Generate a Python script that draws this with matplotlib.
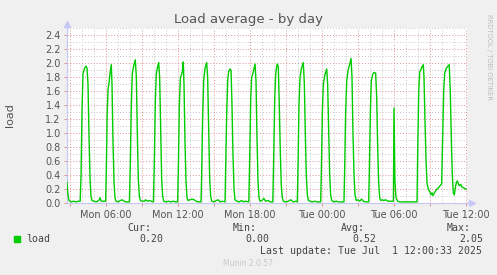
import matplotlib
matplotlib.use("Agg")
import matplotlib.pyplot as plt
import numpy as np

# -------------------------------------------------
# Data (hours since Mon 00:00, load average)
# -------------------------------------------------
hours = [
    2.75, 2.83, 2.92, 3.1, 3.3, 3.5, 3.7, 3.85,
    3.92, 4.0, 4.08, 4.22, 4.33, 4.42, 4.5, 4.58, 4.67, 4.75, 4.83,
    5.0, 5.2, 5.4, 5.5, 5.6, 5.8, 5.97,
    6.03, 6.1, 6.17, 6.25, 6.33, 6.44, 6.5, 6.58, 6.67, 6.75, 6.83,
    7.0, 7.2, 7.35, 7.5, 7.7, 7.95,
    8.03, 8.11, 8.19, 8.3, 8.44, 8.53, 8.61, 8.69, 8.78, 8.86,
    9.0, 9.2, 9.3, 9.45, 9.6, 9.75, 9.95,
    10.03, 10.11, 10.19, 10.3, 10.39, 10.47, 10.56, 10.64, 10.72, 10.81,
    11.0, 11.2, 11.4, 11.6, 11.8, 11.97,
    12.03, 12.11, 12.2, 12.3, 12.36, 12.44, 12.5, 12.58, 12.67, 12.75, 12.83,
    13.0, 13.2, 13.35, 13.5, 13.7, 13.92,
    13.97, 14.05, 14.14, 14.25, 14.39, 14.47, 14.56, 14.64, 14.72, 14.81,
    15.0, 15.2, 15.35, 15.5, 15.7, 15.92,
    15.97, 16.06, 16.14, 16.22, 16.33, 16.42, 16.5, 16.58, 16.67, 16.75,
    16.9, 17.1, 17.3, 17.45, 17.6, 17.9,
    17.97, 18.06, 18.14, 18.22, 18.3, 18.42, 18.5, 18.58, 18.67, 18.75, 18.83,
    19.0, 19.15, 19.3, 19.5, 19.7, 19.9,
    19.97, 20.06, 20.14, 20.22, 20.28, 20.36, 20.44, 20.53, 20.61, 20.69, 20.78,
    21.0, 21.2, 21.4, 21.6, 21.8, 21.94,
    22.0, 22.08, 22.17, 22.28, 22.44, 22.53, 22.61, 22.69, 22.78, 22.86,
    23.0, 23.2, 23.4, 23.6, 23.89,
    23.95, 24.03, 24.11, 24.22, 24.39, 24.47, 24.56, 24.64, 24.72, 24.81,
    25.0, 25.2, 25.4, 25.6, 25.83,
    25.89, 25.97, 26.06, 26.17, 26.3, 26.42, 26.5, 26.58, 26.67, 26.75, 26.86,
    27.0, 27.15, 27.3, 27.45, 27.6, 27.89,
    27.95, 28.03, 28.11, 28.22, 28.33, 28.47, 28.56, 28.64, 28.72, 28.81, 28.89,
    29.0, 29.15, 29.3, 29.5, 29.7, 29.95,
    30.0, 30.08, 30.17, 30.3,
    30.5, 30.8, 31.1, 31.4, 31.7, 31.92,
    31.97, 32.06, 32.14, 32.22, 32.33, 32.44, 32.5, 32.58, 32.67, 32.75, 32.83,
    32.92, 33.0, 33.08, 33.17, 33.25, 33.4, 33.55, 33.7, 33.83, 33.97,
    34.06, 34.14, 34.22, 34.33, 34.44, 34.6, 34.69, 34.78, 34.86, 34.94, 35.03,
    35.11, 35.2, 35.28, 35.36, 35.44, 35.56, 35.67, 35.8, 36.0,
]
load = [
    0.30, 0.12, 0.04, 0.02, 0.03, 0.02, 0.03, 0.03,
    0.40, 1.30, 1.85, 1.93, 1.96, 1.93, 1.70, 1.00, 0.35, 0.10, 0.04,
    0.03, 0.02, 0.04, 0.08, 0.03, 0.03, 0.03,
    0.50, 1.30, 1.62, 1.72, 1.85, 1.98, 1.70, 0.90, 0.30, 0.08, 0.03,
    0.02, 0.04, 0.05, 0.03, 0.02, 0.02,
    0.60, 1.40, 1.85, 1.96, 2.05, 1.80, 1.00, 0.35, 0.10, 0.04,
    0.03, 0.03, 0.05, 0.03, 0.04, 0.03, 0.02,
    0.60, 1.45, 1.85, 1.95, 2.01, 1.80, 1.00, 0.35, 0.10, 0.03,
    0.02, 0.03, 0.02, 0.03, 0.02, 0.02,
    0.50, 1.40, 1.80, 1.84, 1.88, 2.02, 1.70, 0.90, 0.30, 0.08, 0.04,
    0.05, 0.06, 0.05, 0.03, 0.02, 0.02,
    0.40, 1.20, 1.75, 1.93, 2.01, 1.80, 1.00, 0.35, 0.10, 0.03,
    0.02, 0.04, 0.05, 0.02, 0.03, 0.02,
    0.50, 1.30, 1.75, 1.88, 1.92, 1.90, 1.40, 0.70, 0.20, 0.05,
    0.03, 0.02, 0.04, 0.02, 0.03, 0.02,
    0.60, 1.50, 1.80, 1.84, 1.90, 1.99, 1.75, 0.95, 0.30, 0.08, 0.03,
    0.04, 0.07, 0.03, 0.04, 0.02, 0.02,
    0.60, 1.50, 1.85, 1.95, 1.99, 1.95, 1.40, 0.70, 0.25, 0.08, 0.03,
    0.02, 0.03, 0.05, 0.02, 0.03, 0.02,
    0.50, 1.40, 1.80, 1.92, 2.01, 1.70, 1.00, 0.40, 0.12, 0.04,
    0.03, 0.02, 0.03, 0.02, 0.02,
    0.50, 1.30, 1.70, 1.82, 1.92, 1.70, 1.00, 0.40, 0.12, 0.04,
    0.02, 0.03, 0.02, 0.02, 0.02,
    0.50, 1.30, 1.75, 1.90, 1.98, 2.07, 1.80, 1.00, 0.40, 0.12, 0.04,
    0.05, 0.03, 0.06, 0.03, 0.02, 0.02,
    0.50, 1.30, 1.75, 1.84, 1.87, 1.86, 1.50, 0.80, 0.30, 0.08, 0.04,
    0.05, 0.04, 0.05, 0.03, 0.03, 0.03,
    1.36, 0.30, 0.08, 0.03,
    0.02, 0.02, 0.02, 0.02, 0.02, 0.02,
    0.70, 1.60, 1.88, 1.90, 1.95, 1.98, 1.80, 1.20, 0.60, 0.30, 0.22,
    0.18, 0.16, 0.12, 0.15, 0.11, 0.16, 0.20, 0.22, 0.25, 0.28,
    1.00, 1.60, 1.85, 1.92, 1.95, 1.98, 1.60, 0.90, 0.40, 0.15, 0.12,
    0.22, 0.30, 0.32, 0.28, 0.25, 0.27, 0.23, 0.22, 0.20,
]

tick_hours = [6, 12, 18, 24, 30, 36]
tick_labels = ["Mon 06:00", "Mon 12:00", "Mon 18:00",
               "Tue 00:00", "Tue 06:00", "Tue 12:00"]

stat_names = ["Cur:", "Min:", "Avg:", "Max:"]
stat_values = ["0.20", "0.00", "0.52", "2.05"]
last_update = "Last update: Tue Jul  1 12:00:33 2025"

# -------------------------------------------------
# Figure
# -------------------------------------------------
W, H = 497, 275
fig = plt.figure(figsize=(W / 100, H / 100), dpi=100, facecolor="#f0f0f0")
ax = fig.add_axes([67 / W, 1 - 203.3 / H, 400 / W, 175 / H])
ax.set_facecolor("white")

ax.plot(hours, load, color="#00cc00", linewidth=1.0, zorder=3)

ax.set_xlim(2.75, 36.083)
ax.set_ylim(0, 2.5)

# grid
major_x = np.arange(3, 37, 3)
ax.set_xticks(major_x)
ax.set_xticklabels([tick_labels[tick_hours.index(h)] if h in tick_hours else ""
                    for h in major_x])
ax.set_xticks(np.arange(3, 37, 1), minor=True)
ax.set_yticks(np.arange(0, 2.41, 0.2))
ax.set_yticklabels([f"{v:.1f}" for v in np.arange(0, 2.41, 0.2)])
ax.set_yticks(np.arange(0.1, 2.51, 0.1), minor=True)

dot = (0, (1, 2))
ax.grid(which="major", color="#e09090", linestyle=dot, linewidth=0.7, zorder=1)
ax.grid(which="minor", color="#c8c8c8", linestyle=dot, linewidth=0.7, zorder=1)

ax.tick_params(which="major", length=2.5, width=0.7, color="#e09090",
               labelsize=7, labelcolor="#555555", pad=2)
ax.tick_params(which="minor", length=0)

for s in ["top", "right"]:
    ax.spines[s].set_visible(False)
for s in ["left", "bottom"]:
    ax.spines[s].set_color("#c8c8f4")
    ax.spines[s].set_linewidth(0.9)

# axis arrows
ax.plot([0, 0], [1, 1.02], color="#c8c8f4", lw=0.9, transform=ax.transAxes, clip_on=False)
ax.plot([0], [1.025], marker="^", color="#c8c8f4", markersize=4.5,
        transform=ax.transAxes, clip_on=False)
ax.plot([1, 1.008], [0, 0], color="#c8c8f4", lw=0.9, transform=ax.transAxes, clip_on=False)
ax.plot([1.012], [0], marker=">", color="#c8c8f4", markersize=4.5,
        transform=ax.transAxes, clip_on=False)

# texts
fig.text(248 / W, 1 - 19 / H, "Load average - by day", ha="center", va="center",
         fontsize=9.5, color="#555555")
fig.text(10 / W, 1 - 115 / H, "load", ha="center", va="center", rotation=90,
         fontsize=8, color="#555555")
fig.text(489 / W, 1 - 57 / H, "RRDTOOL / TOBI OETIKER", ha="center", va="center",
         rotation=270, fontsize=4.9, color="#bcbcbc")

# legend
mono = dict(family="DejaVu Sans Mono", fontsize=7.1, color="#444444", va="center")
fig.patches.append(plt.Rectangle((14 / W, 1 - 242 / H), 6 / W, 6 / H,
                                 transform=fig.transFigure, color="#00cc00"))
fig.text(26 / W, 1 - 239.3 / H, "load", **mono)
head_x = [127, 233, 341, 447]
val_x = [139, 245, 352, 459]
for name, hx in zip(stat_names, head_x):
    fig.text(hx / W, 1 - 227.7 / H, name, **mono)
for val, vx in zip(stat_values, val_x):
    fig.text(vx / W, 1 - 239.3 / H, val, **mono)
fig.text(482 / W, 1 - 250.7 / H, last_update, ha="right", **mono)
fig.text(248 / W, 1 - 264 / H, "Munin 2.0.57", ha="center", va="center",
         fontsize=5.5, color="#c8c8c8")

fig.savefig("out.png", dpi=100, facecolor=fig.get_facecolor())
